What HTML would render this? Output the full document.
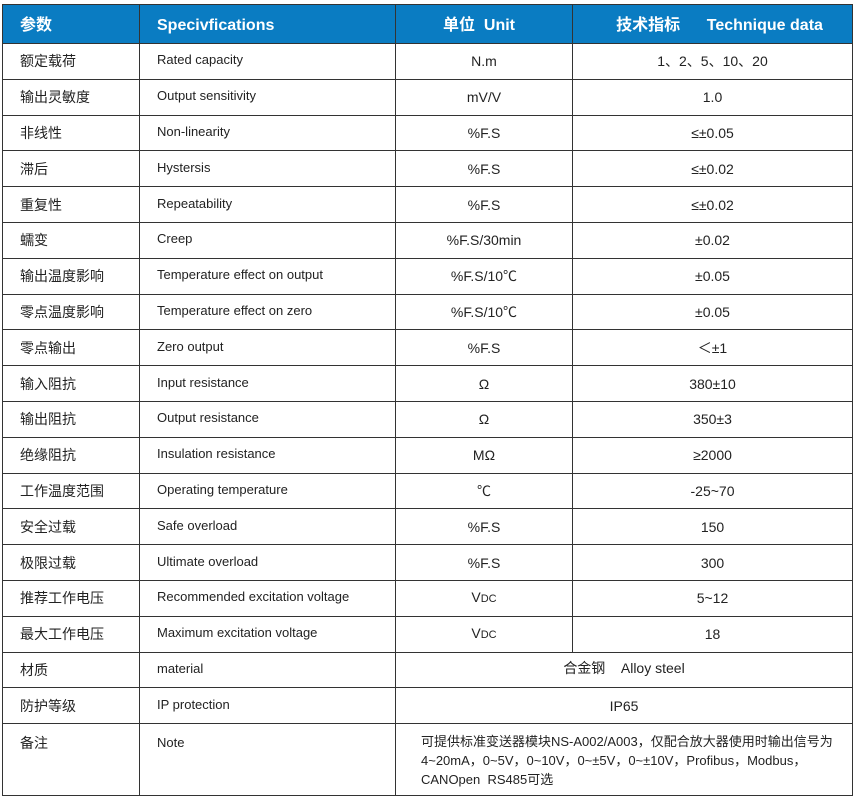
<!DOCTYPE html>
<html><head><meta charset="utf-8"><style>
body{margin:0;background:#fff;width:854px;height:799px;overflow:hidden;font-family:"Liberation Sans","Noto Sans CJK SC",sans-serif;color:#222}
table{position:absolute;left:2px;top:4px;border-collapse:collapse;table-layout:fixed;width:850px}
td{border:1px solid #333;height:34.8px;padding:0;font-size:14px;line-height:18px;vertical-align:middle}
tr.h td{background:#0a7cc2;color:#fff;font-weight:bold;font-size:16px;height:35px;padding-top:3px;border-color:#333}
td.c1{padding-left:17px}
td.c2{padding-left:17px;font-size:13px}
td.c3,td.c4{text-align:center}
td.c2 span{position:relative;top:-1px}
</style></head><body>
<table>
<colgroup><col style="width:137px"><col style="width:256px"><col style="width:177px"><col style="width:280px"></colgroup>
<tr class="h"><td class="c1">参数</td><td class="c2" style="font-size:16px">Specivfications</td><td class="c3" style="padding-right:10px">单位&nbsp;&nbsp;Unit</td><td class="c4" style="padding-left:14px">技术指标&nbsp;&nbsp;&nbsp;&nbsp;&nbsp;&nbsp;Technique data</td></tr>
<tr><td class="c1">额定载荷</td><td class="c2"><span>Rated capacity</span></td><td class="c3">N.m</td><td class="c4">1、2、5、10、20</td></tr>
<tr><td class="c1">输出灵敏度</td><td class="c2"><span>Output sensitivity</span></td><td class="c3">mV/V</td><td class="c4">1.0</td></tr>
<tr><td class="c1">非线性</td><td class="c2"><span>Non-linearity</span></td><td class="c3">%F.S</td><td class="c4">≤±0.05</td></tr>
<tr><td class="c1">滞后</td><td class="c2"><span>Hystersis</span></td><td class="c3">%F.S</td><td class="c4">≤±0.02</td></tr>
<tr><td class="c1">重复性</td><td class="c2"><span>Repeatability</span></td><td class="c3">%F.S</td><td class="c4">≤±0.02</td></tr>
<tr><td class="c1">蠕变</td><td class="c2"><span>Creep</span></td><td class="c3">%F.S/30min</td><td class="c4">±0.02</td></tr>
<tr><td class="c1">输出温度影响</td><td class="c2"><span>Temperature effect on output</span></td><td class="c3">%F.S/10℃</td><td class="c4">±0.05</td></tr>
<tr><td class="c1">零点温度影响</td><td class="c2"><span>Temperature effect on zero</span></td><td class="c3">%F.S/10℃</td><td class="c4">±0.05</td></tr>
<tr><td class="c1">零点输出</td><td class="c2"><span>Zero output</span></td><td class="c3">%F.S</td><td class="c4">＜±1</td></tr>
<tr><td class="c1">输入阻抗</td><td class="c2"><span>Input resistance</span></td><td class="c3">Ω</td><td class="c4">380±10</td></tr>
<tr><td class="c1">输出阻抗</td><td class="c2"><span>Output resistance</span></td><td class="c3">Ω</td><td class="c4">350±3</td></tr>
<tr><td class="c1">绝缘阻抗</td><td class="c2"><span>Insulation resistance</span></td><td class="c3">MΩ</td><td class="c4">≥2000</td></tr>
<tr><td class="c1">工作温度范围</td><td class="c2"><span>Operating temperature</span></td><td class="c3">℃</td><td class="c4">-25~70</td></tr>
<tr><td class="c1">安全过载</td><td class="c2"><span>Safe overload</span></td><td class="c3">%F.S</td><td class="c4">150</td></tr>
<tr><td class="c1">极限过载</td><td class="c2"><span>Ultimate overload</span></td><td class="c3">%F.S</td><td class="c4">300</td></tr>
<tr><td class="c1">推荐工作电压</td><td class="c2"><span>Recommended excitation voltage</span></td><td class="c3">V<span style="font-size:11px">DC</span></td><td class="c4">5~12</td></tr>
<tr><td class="c1">最大工作电压</td><td class="c2"><span>Maximum excitation voltage</span></td><td class="c3">V<span style="font-size:11px">DC</span></td><td class="c4">18</td></tr>
<tr><td class="c1">材质</td><td class="c2"><span>material</span></td><td class="c3" colspan="2"><span style="position:relative;top:-2px">合金钢&nbsp;&nbsp;&nbsp;&nbsp;Alloy steel</span></td></tr>
<tr><td class="c1">防护等级</td><td class="c2"><span>IP protection</span></td><td class="c3" colspan="2">IP65</td></tr>
<tr><td class="c1" style="height:61px;vertical-align:top;padding-top:10px">备注</td><td class="c2" style="vertical-align:top;padding-top:10px">Note</td><td colspan="2" style="font-size:13px;line-height:19px;padding-left:25px;padding-top:8px;height:63px;vertical-align:top">可提供标准变送器模块NS-A002/A003，仅配合放大器使用时输出信号为<br>4~20mA，0~5V，0~10V，0~±5V，0~±10V，Profibus，Modbus，<br>CANOpen&nbsp;&nbsp;RS485可选</td></tr>
</table>
</body></html>
